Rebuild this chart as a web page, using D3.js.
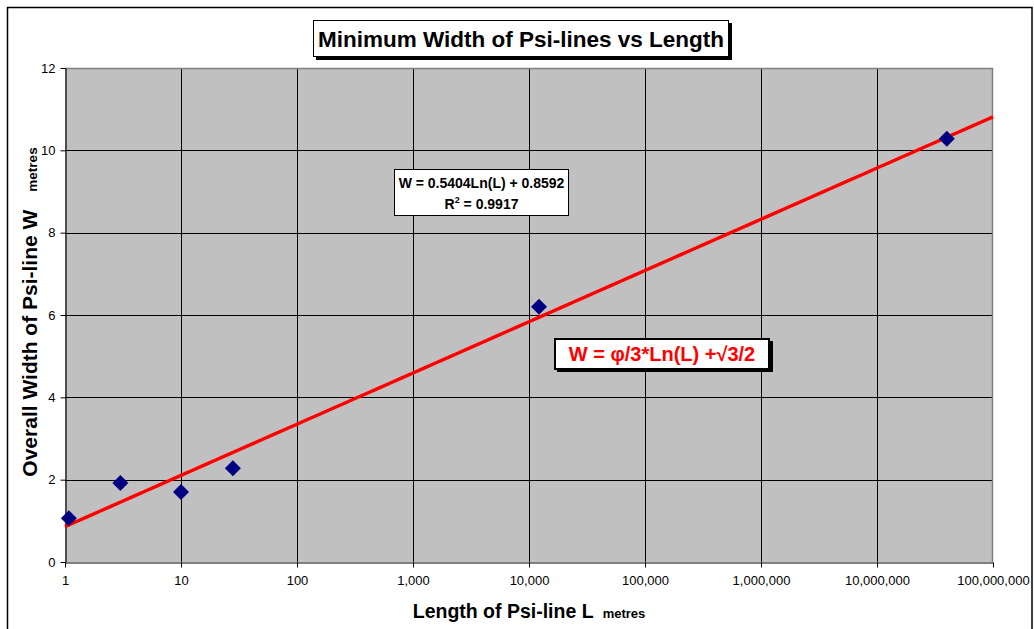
<!DOCTYPE html>
<html><head><meta charset="utf-8">
<script src="https://cdn.jsdelivr.net/npm/d3@7"></script>
<style>
html,body{margin:0;padding:0;background:#fff;}
svg{display:block;font-family:"Liberation Sans",Arial,sans-serif;}
</style></head>
<body>
<svg id="c" width="1034" height="629"></svg>
<script>
// ---- data ----
const lengths = [1.08, 3.0, 10.0, 28, 12200, 40000000];
const widths  = [1.06, 1.92, 1.70, 2.28, 6.20, 10.28];
const xTicks = [1, 10, 100, 1000, 10000, 100000, 1000000, 10000000, 100000000];
const yTicks = [0, 2, 4, 6, 8, 10, 12];
const trendA = 0.5404, trendB = 0.8592;
const trendRange = [1, 100000000];
const titleText = "Minimum Width of Psi-lines vs Length";
const xTitle = "Length of Psi-line L";
const yTitle = "Overall Width of Psi-line W";
const unitText = "metres";
const eqLines = ["W = 0.5404Ln(L) + 0.8592", "R", "2", " = 0.9917"];
const formulaText = "W = \u03C6/3*Ln(L) +\u221A3/2";

// ---- layout ----
const svg = d3.select("#c");
const L = 65, R = 993, T = 68, B = 562;
const x = d3.scaleLog().domain([1, 1e8]).range([L, R]);
const y = d3.scaleLinear().domain([0, 12]).range([B, T]);

// outer chart border
svg.append("rect").attr("x", 7.5).attr("y", 7.5).attr("width", 1024.5).attr("height", 660)
  .attr("fill", "none").attr("stroke", "#000").attr("stroke-width", 1.5);

// plot area
svg.append("rect").attr("x", L).attr("y", T).attr("width", R - L).attr("height", B - T)
  .attr("fill", "#C0C0C0");

// gridlines
svg.append("g").selectAll("line").data(yTicks.filter(d => d > 0 && d < 12)).join("line")
  .attr("x1", L).attr("x2", R).attr("y1", d => Math.round(y(d)) + 0.5).attr("y2", d => Math.round(y(d)) + 0.5)
  .attr("stroke", "#000").attr("stroke-width", 1);
svg.append("g").selectAll("line").data(xTicks.slice(1, -1)).join("line")
  .attr("y1", T).attr("y2", B).attr("x1", d => Math.round(x(d)) + 0.5).attr("x2", d => Math.round(x(d)) + 0.5)
  .attr("stroke", "#000").attr("stroke-width", 1);

// plot border top/right gray
svg.append("path").attr("d", `M${L},${T + 0.5}H${R - 0.5}V${B}`)
  .attr("fill", "none").attr("stroke", "#808080").attr("stroke-width", 1.5);

// axes
const xAxis = d3.axisBottom(x).tickValues(xTicks).tickFormat(d3.format(",")).tickSizeInner(5).tickSizeOuter(0).tickPadding(8);
const yAxis = d3.axisLeft(y).tickValues(yTicks).tickFormat(d3.format("d")).tickSizeInner(5).tickSizeOuter(0).tickPadding(5);
const gx = svg.append("g").attr("transform", `translate(0,${B + 0.5})`).call(xAxis);
const gy = svg.append("g").attr("transform", `translate(${L + 0.5},0)`).call(yAxis);
[gx, gy].forEach(g => {
  g.select(".domain").attr("stroke", "#000").attr("stroke-width", 1.2);
  g.selectAll(".tick line").attr("stroke", "#000");
  g.selectAll("text").attr("font-family", "Liberation Sans, Arial, sans-serif")
    .attr("font-size", 13).attr("fill", "#000");
});

// trend line
const trendPts = d3.range(0, 81).map(i => Math.pow(10, i / 10)).filter(v => v >= trendRange[0] && v <= trendRange[1]);
svg.append("path")
  .datum(trendPts)
  .attr("d", d3.line().x(d => x(d)).y(d => y(trendA * Math.log(d) + trendB)))
  .attr("fill", "none").attr("stroke", "#FF0000").attr("stroke-width", 3.4);

// markers
const pts = lengths.map((l, i) => ({ l, w: widths[i] }));
svg.append("g").selectAll("path").data(pts).join("path")
  .attr("transform", d => `translate(${x(d.l)},${y(d.w)})`)
  .attr("d", "M0,-8L8,0L0,8L-8,0Z")
  .attr("fill", "#000080");

// equation box
svg.append("rect").attr("x", 394.5).attr("y", 169.5).attr("width", 174).attr("height", 46)
  .attr("fill", "#fff").attr("stroke", "#000").attr("stroke-width", 1);
svg.append("text").attr("x", 481.5).attr("y", 188).attr("text-anchor", "middle")
  .attr("font-weight", "bold").attr("font-size", 14).text(eqLines[0]);
const r2 = svg.append("text").attr("x", 481.5).attr("y", 209).attr("text-anchor", "middle")
  .attr("font-weight", "bold").attr("font-size", 14);
r2.append("tspan").text(eqLines[1]);
r2.append("tspan").attr("font-size", 9).attr("dy", -6).text(eqLines[2]);
r2.append("tspan").attr("dy", 6).text(eqLines[3]);

// red formula box
svg.append("rect").attr("x", 557).attr("y", 341).attr("width", 216).attr("height", 31).attr("fill", "#000");
svg.append("rect").attr("x", 555).attr("y", 339).attr("width", 214).attr("height", 30)
  .attr("fill", "#fff").attr("stroke", "#000").attr("stroke-width", 2);
svg.append("text").attr("x", 662).attr("y", 361).attr("text-anchor", "middle")
  .attr("font-weight", "bold").attr("font-size", 20).attr("fill", "#FF0000").text(formulaText);

// title box
svg.append("rect").attr("x", 316).attr("y", 23).attr("width", 416).attr("height", 37).attr("fill", "#000");
svg.append("rect").attr("x", 313.5).attr("y", 20.5).attr("width", 415).attr("height", 36)
  .attr("fill", "#fff").attr("stroke", "#000").attr("stroke-width", 1);
svg.append("text").attr("x", 521).attr("y", 47).attr("text-anchor", "middle")
  .attr("font-weight", "bold").attr("font-size", 22.5).text(titleText);

// x title
const xt = svg.append("text").attr("x", 529).attr("y", 618).attr("text-anchor", "middle")
  .attr("font-weight", "bold");
xt.append("tspan").attr("font-size", 19.5).text(xTitle);
xt.append("tspan").attr("font-size", 13).attr("dx", 9).text(unitText);

// y title
const yt = svg.append("text").attr("transform", "translate(37,312) rotate(-90)").attr("text-anchor", "middle")
  .attr("font-weight", "bold");
yt.append("tspan").attr("font-size", 21).text(yTitle);
yt.append("tspan").attr("font-size", 13.5).attr("dx", 18).text(unitText);
</script>
</body></html>
